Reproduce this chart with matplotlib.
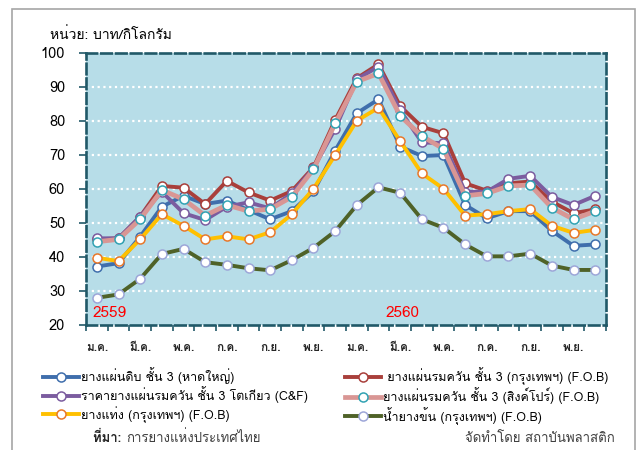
import matplotlib
matplotlib.use('Agg')
import numpy as np
import matplotlib.pyplot as plt
from matplotlib.patches import Rectangle

plt.rcParams['font.family'] = ['Loma', 'DejaVu Sans']

# ราคายางรายเดือน ม.ค. 2559 - ธ.ค. 2560 (บาท/กิโลกรัม)
months = ['ม.ค.', 'ก.พ.', 'มี.ค.', 'เม.ย.', 'พ.ค.', 'มิ.ย.',
          'ก.ค.', 'ส.ค.', 'ก.ย.', 'ต.ค.', 'พ.ย.', 'ธ.ค.'] * 2

rss3_hatyai = [37.1, 38.1, 45.9, 54.7, 57.9, 55.5, 56.5, 53.7, 51.0, 53.4, 59.2, 71.2,
               82.2, 86.3, 72.4, 69.6, 69.9, 55.2, 51.3, 53.4, 53.4, 47.6, 43.2, 43.6]
rss3_bkk = [45.1, 45.4, 51.8, 60.8, 60.3, 55.5, 62.3, 58.9, 56.5, 59.3, 66.3, 80.2,
            92.5, 96.6, 84.3, 78.2, 76.3, 61.6, 59.4, 61.6, 62.1, 56.2, 52.8, 53.9]
rss3_tokyo = [45.4, 45.4, 51.8, 59.1, 52.8, 50.8, 54.7, 56.0, 54.2, 58.6, 66.0, 77.6,
              92.2, 95.9, 83.1, 73.6, 73.4, 59.1, 59.1, 62.9, 63.8, 57.6, 55.2, 57.9]
rss3_sing = [44.4, 45.1, 51.0, 59.6, 56.9, 52.1, 55.2, 53.4, 54.0, 57.6, 65.7, 79.2,
             91.5, 93.9, 81.4, 75.5, 71.7, 57.9, 58.6, 60.8, 61.1, 54.4, 51.0, 53.4]
str20_bkk = [39.7, 38.7, 45.1, 52.5, 49.1, 45.1, 46.0, 45.1, 47.2, 52.5, 60.0, 69.9,
             80.0, 83.8, 74.0, 64.5, 60.0, 52.1, 52.5, 53.4, 54.0, 49.1, 47.0, 47.9]
latex_bkk = [27.9, 28.9, 33.5, 40.8, 42.3, 38.4, 37.6, 36.6, 36.0, 39.0, 42.6, 47.5,
             55.2, 60.4, 58.8, 51.0, 48.5, 43.6, 40.1, 40.1, 40.9, 37.4, 36.1, 36.1]

labels = ['ยางแผ่นดิบ ชั้น 3 (หาดใหญ่)',
          ' ยางแผ่นรมควัน ชั้น 3 (กรุงเทพฯ) (F.O.B)',
          'ราคายางแผ่นรมควัน ชั้น 3 โตเกียว (C&F)',
          'ยางแผ่นรมควัน ชั้น 3 (สิงค์โปร์) (F.O.B)',
          'ยางแท่ง (กรุงเทพฯ) (F.O.B)',
          'น้ำยางข้น (กรุงเทพฯ) (F.O.B)']
series = [rss3_hatyai, rss3_bkk, rss3_tokyo, rss3_sing, str20_bkk, latex_bkk]
line_colors = ['#3F6EAC', '#A93F3B', '#7B5C9F', '#D99694', '#FFC000', '#4F6228']
edge_colors = ['#3F6EAC', '#A93F3B', '#7B5C9F', '#31A2B3', '#E8782A', '#9DA6D8']
widths = [2.8, 2.8, 2.8, 3.4, 2.8, 2.8]

fig = plt.figure(figsize=(6.44, 4.5), dpi=100)
fig.patches.append(Rectangle((12 / 644, -0.1), 623 / 644, 1.1 - 9 / 450,
                             transform=fig.transFigure, fill=False,
                             edgecolor='#A6A6A6', lw=1.2))

ax = fig.add_axes([86 / 644, 125.3 / 450, 520 / 644, 272 / 450])
ax.set_facecolor('#B7DDE8')

x = np.arange(len(months))
handles = []
for vals, lab, c, ec, w in zip(series, labels, line_colors, edge_colors, widths):
    h, = ax.plot(x, vals, color=c, lw=w, marker='o', ms=6.5, mfc='white',
                 mec=ec, mew=1.1, label=lab, solid_joinstyle='round')
    handles.append(h)

ax.set_xlim(-0.5, len(months) - 0.5)
ax.set_ylim(20, 100)
ax.set_yticks(range(20, 101, 10))
ax.tick_params(axis='y', length=5, width=1.2, color='#215968', labelsize=10.5, pad=10)

# ticks between months, labels every two months
ax.set_xticks(np.arange(-0.5, len(months), 1))
ax.set_xticklabels([])
ax.tick_params(axis='x', which='major', length=4, width=1.2, color='#215968')
ax.set_xticks(x[::2], minor=True)
ax.set_xticklabels(months[::2], minor=True, fontweight='bold', fontsize=8.5, color='#262626')
ax.tick_params(axis='x', which='minor', length=0, pad=13)

for yv in range(30, 100, 10):
    ax.axhline(yv, color='white', lw=1.6, ls=(0, (1, 1.6)), zorder=0.5)

for sp in ax.spines.values():
    sp.set_color('#215968')
    sp.set_linewidth(1.9)
    sp.set_linestyle((0, (4, 1.6)))

ax.text(-0.22, 23.3, '2559', color='red', fontsize=11, ha='left', va='center')
ax.text(13.33, 23.3, '2560', color='red', fontsize=11, ha='left', va='center')

fig.text(50 / 644, 1 - 35 / 450, 'หน่วย: บาท/กิโลกรัม', fontsize=10, va='center', ha='left')

leg_kw = dict(frameon=False, fontsize=9, handlelength=2.9, handletextpad=0.15,
              labelspacing=0.2, borderpad=0, borderaxespad=0, loc='upper left')
fig.legend([handles[0], handles[2], handles[4]], [labels[0], labels[2], labels[4]],
           bbox_to_anchor=(43 / 644, 1 - 367 / 450), **leg_kw)
fig.legend([handles[1], handles[3], handles[5]], [labels[1], labels[3], labels[5]],
           bbox_to_anchor=(345 / 644, 1 - 367 / 450), **leg_kw)

t = fig.text(93 / 644, 1 - 438 / 450, 'ที่มา: ', fontsize=9.5, fontweight='bold',
             va='center', ha='left', color='#262626')
fig.canvas.draw()
bb = t.get_window_extent()
fig.text(bb.x1 / 644, 1 - 438 / 450, 'การยางแห่งประเทศไทย', fontsize=9.5,
         va='center', ha='left', color='#404040')
fig.text(615 / 644, 1 - 438 / 450, 'จัดทำโดย สถาบันพลาสติก', fontsize=9.5,
         va='center', ha='right', color='#404040')

fig.savefig('out.png', dpi=100)
